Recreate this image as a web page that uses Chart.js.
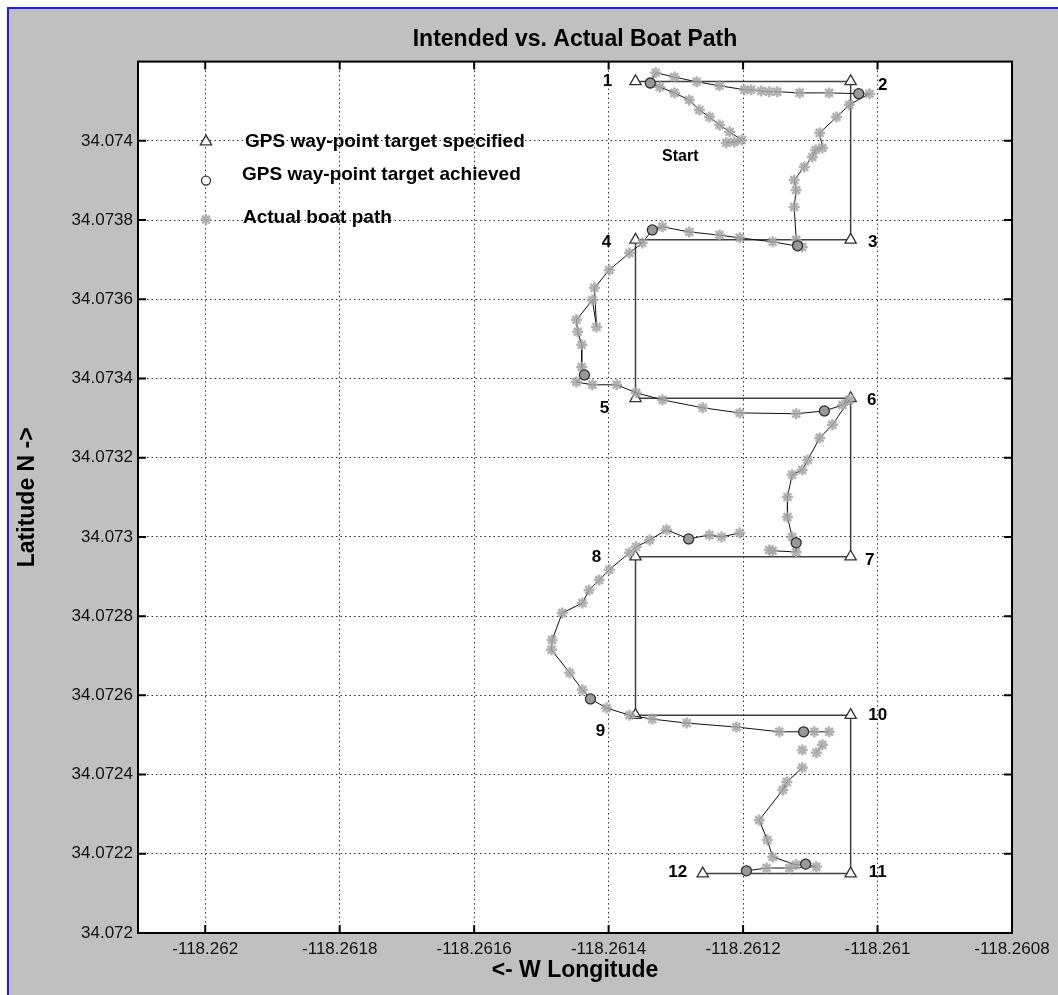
<!DOCTYPE html>
<html lang="en">
<head>
<meta charset="UTF-8">
<title>Intended vs. Actual Boat Path</title>
<style>
    html, body { margin: 0; padding: 0; background: #fff; }
    #frame { position: absolute; left: 7px; top: 7px; width: 1051px; height: 988px; box-sizing: border-box;
             background: #c0c0c0; border-left: 2px solid #1a1aff; border-top: 2px solid #1a1aff; }
    #myChart { position: absolute; left: 0; top: 0; }
</style>
</head>
<body>
<div id="frame"></div>
<canvas id="myChart" width="1058" height="995"></canvas>

<script src="https://cdn.jsdelivr.net/npm/chart.js"></script>
<script>
    // way-point targets (triangles)
    const wpNames = ['1','2','3','4','5','6','7','8','9','10','11','12']
    const wpLon = [-118.26136, -118.26104, -118.26104, -118.26136, -118.26136, -118.26104,
                   -118.26104, -118.26136, -118.26136, -118.26104, -118.26104, -118.26126]
    const wpLat = [34.07415, 34.07415, 34.07375, 34.07375, 34.07335, 34.07335,
                   34.07295, 34.07295, 34.07255, 34.07255, 34.07215, 34.07215]

    // way-point targets achieved (circles)
    const hitLon = [-118.261338, -118.261028, -118.261119, -118.261335, -118.261436, -118.261079,
                    -118.261121, -118.261281, -118.261427, -118.261110, -118.261107, -118.261195]
    const hitLat = [34.074146, 34.074119, 34.073735, 34.073775, 34.073409, 34.073318,
                    34.072985, 34.072995, 34.072591, 34.072508, 34.072174, 34.072157]

    // actual boat path (null = break in the log)
    const pathLon = [
        -118.261225, -118.261213, -118.261202, -118.261220, -118.261235, -118.261250, -118.261265, -118.261280, -118.261302, -118.261324,
        -118.261338, -118.261330, -118.261302, -118.261269, -118.261235, -118.261198, -118.261188, -118.261173, -118.261161, -118.261149,
        -118.261116, -118.261072, -118.261028, -118.261012, -118.261042, -118.261061, -118.261086, -118.261082, -118.261092, -118.261097,
        -118.261109, -118.261124, -118.261121, -118.261124, -118.261121, -118.261119, -118.261112, -118.261156, -118.261205, -118.261235,
        -118.261280, -118.261320, -118.261335, -118.261350, -118.261369, -118.261399, -118.261421, -118.261418, -118.261424, -118.261448,
        -118.261446, -118.261440, -118.261440, -118.261436, -118.261448, -118.261424, -118.261388, -118.261359, -118.261320, -118.261260,
        -118.261205, -118.261121, -118.261079, -118.261052, -118.261042, -118.261067, -118.261086, -118.261104, -118.261112, -118.261127,
        -118.261134, -118.261134, -118.261127, -118.261121, -118.261121, -118.261156, -118.261161, null,
        -118.261205, -118.261232, -118.261250, -118.261281, -118.261314, -118.261339, -118.261359, -118.261369, -118.261399, -118.261414,
        -118.261429, -118.261439, -118.261469, -118.261484, -118.261485, -118.261458, -118.261439, -118.261427, -118.261403, -118.261369,
        -118.261335, -118.261284, -118.261210, -118.261146, -118.261110, -118.261094, -118.261072, null,
        -118.261112, null, -118.261091, -118.261082, null,
        -118.261112, -118.261135, -118.261141, -118.261176, -118.261164, -118.261156, -118.261121, -118.261107, -118.261091, -118.261131,
        -118.261165, -118.261195
    ]
    const pathLat = [
        34.073995, 34.073997, 34.074002, 34.074023, 34.074040, 34.074060, 34.074078, 34.074103, 34.074121, 34.074136,
        34.074146, 34.074172, 34.074161, 34.074149, 34.074139, 34.074129, 34.074129, 34.074126, 34.074124, 34.074124,
        34.074121, 34.074121, 34.074119, 34.074119, 34.074091, 34.074060, 34.074020, 34.073982, 34.073977, 34.073959,
        34.073934, 34.073901, 34.073876, 34.073833, 34.073750, 34.073735, 34.073732, 34.073745, 34.073755, 34.073762,
        34.073770, 34.073783, 34.073775, 34.073742, 34.073717, 34.073674, 34.073629, 34.073530, 34.073598, 34.073548,
        34.073518, 34.073485, 34.073429, 34.073409, 34.073391, 34.073384, 34.073384, 34.073364, 34.073346, 34.073326,
        34.073313, 34.073311, 34.073318, 34.073333, 34.073346, 34.073283, 34.073250, 34.073194, 34.073169, 34.073157,
        34.073101, 34.073050, 34.073000, 34.072985, 34.072962, 34.072965, 34.072967, null,
        34.073010, 34.073000, 34.073005, 34.072995, 34.073018, 34.072992, 34.072975, 34.072960, 34.072917, 34.072891,
        34.072866, 34.072833, 34.072808, 34.072740, 34.072715, 34.072657, 34.072614, 34.072591, 34.072568, 34.072550,
        34.072540, 34.072530, 34.072520, 34.072508, 34.072508, 34.072508, 34.072508, null,
        34.072462, null, 34.072455, 34.072475, null,
        34.072417, 34.072381, 34.072361, 34.072285, 34.072235, 34.072192, 34.072172, 34.072174, 34.072167, 34.072164,
        34.072164, 34.072157
    ]

    const lonTicks = [-118.262, -118.2618, -118.2616, -118.2614, -118.2612, -118.261, -118.2608]
    const latTicks = [34.072, 34.0722, 34.0724, 34.0726, 34.0728, 34.073, 34.0732, 34.0734, 34.0736, 34.0738, 34.074]

    const FONT = "'Liberation Sans', Arial, Helvetica, sans-serif"
    const STAR = 'rgba(165,165,165,0.85)'
    const fmt = v => String(Number(v.toFixed(4)))
    const xy = (lons, lats) => lons.map((x, i) => ({ x: x, y: lats[i] }))

    // text and little tick marks, MATLAB style
    const boatDecor = {
        id: 'boatDecor',
        beforeDraw(chart) {
            const a = chart.chartArea, ctx = chart.ctx
            ctx.save()
            ctx.fillStyle = '#fff'
            ctx.fillRect(a.left, a.top, a.right - a.left, a.bottom - a.top)
            ctx.restore()
        },
        afterDraw(chart) {
            const a = chart.chartArea, ctx = chart.ctx
            const sx = chart.scales.x, sy = chart.scales.y
            ctx.save()

            // inner tick marks
            ctx.strokeStyle = '#000'
            ctx.lineWidth = 2
            ctx.beginPath()
            lonTicks.forEach(v => {
                const p = sx.getPixelForValue(v)
                ctx.moveTo(p, a.bottom); ctx.lineTo(p, a.bottom - 8)
                ctx.moveTo(p, a.top); ctx.lineTo(p, a.top + 8)
            })
            latTicks.forEach(v => {
                const p = sy.getPixelForValue(v)
                ctx.moveTo(a.left, p); ctx.lineTo(a.left + 8, p)
                ctx.moveTo(a.right, p); ctx.lineTo(a.right - 8, p)
            })
            ctx.stroke()

            // box
            ctx.lineWidth = 2
            ctx.strokeRect(a.left, a.top, a.right - a.left, a.bottom - a.top)

            // way-point numbers
            const offs = [[-28,0],[32,4],[22,2],[-29,2],[-31,10],[21,2],[19,4],[-39,1],[-35,16],[27,0],[27,-1],[-25,-1]]
            ctx.fillStyle = '#000'
            ctx.font = 'bold 17px ' + FONT
            ctx.textAlign = 'center'
            ctx.textBaseline = 'middle'
            wpNames.forEach((n, i) => {
                ctx.fillText(n, sx.getPixelForValue(wpLon[i]) + offs[i][0], sy.getPixelForValue(wpLat[i]) + offs[i][1])
            })
            ctx.font = 'bold 16px ' + FONT
            ctx.fillText('Start', sx.getPixelForValue(pathLon[0]) - 46, sy.getPixelForValue(pathLat[0]) + 14)

            // legend written inside the axes
            const items = [
                { style: 'triangle', r: 6.5, fill: '#fff', stroke: '#333', w: 1.3, my: 80, tx: 107, ty: 80, text: 'GPS way-point target specified' },
                { style: 'circle', r: 4.5, fill: '#fff', stroke: '#333', w: 1.3, my: 119, tx: 104, ty: 113, text: 'GPS way-point target achieved' },
                { style: 'star', r: 5.5, fill: STAR, stroke: STAR, w: 2.5, my: 158, tx: 105, ty: 156, text: 'Actual boat path' }
            ]
            items.forEach(it => {
                ctx.fillStyle = it.fill
                ctx.strokeStyle = it.stroke
                ctx.lineWidth = it.w
                Chart.helpers.drawPoint(ctx, { pointStyle: it.style, radius: it.r, borderWidth: it.w, rotation: 0 }, a.left + 68, a.top + it.my)
                ctx.fillStyle = '#000'
                ctx.font = 'bold 19px ' + FONT
                ctx.textAlign = 'left'
                ctx.fillText(it.text, a.left + it.tx, a.top + it.ty)
            })
            ctx.restore()
        }
    }

    var ctx = document.getElementById('myChart')
    var myChart = new Chart(ctx, {
        type: 'scatter',
        data: {
            datasets: [{
                label: 'GPS way-point target specified',
                data: xy(wpLon, wpLat),
                showLine: true,
                borderColor: '#404040',
                borderWidth: 1.5,
                pointStyle: 'triangle',
                pointRadius: 6.5,
                pointBackgroundColor: '#fff',
                pointBorderColor: '#333',
                pointBorderWidth: 1.3,
                order: 3
            }, {
                label: 'Actual boat path',
                data: xy(pathLon, pathLat),
                showLine: true,
                spanGaps: false,
                borderColor: '#111',
                borderWidth: 1,
                pointStyle: 'star',
                pointRadius: 5.5,
                pointBorderColor: STAR,
                pointBackgroundColor: STAR,
                pointBorderWidth: 2.5,
                order: 2
            }, {
                label: 'GPS way-point target achieved',
                data: xy(hitLon, hitLat),
                pointStyle: 'circle',
                pointRadius: 5,
                pointBackgroundColor: '#999',
                pointBorderColor: '#333',
                pointBorderWidth: 1.3,
                order: 1
            }]
        },
        options: {
            responsive: false,
            animation: false,
            layout: { padding: { top: 0, right: 46, bottom: 0, left: 0 } },
            plugins: {
                legend: { display: false },
                tooltip: { enabled: false },
                title: {
                    display: true,
                    fullSize: false,
                    text: 'Intended vs. Actual Boat Path',
                    color: '#000',
                    font: { family: FONT, size: 23, weight: 'bold' },
                    padding: { top: 26, bottom: 8 }
                }
            },
            scales: {
                x: {
                    type: 'linear',
                    min: -118.2621,
                    max: -118.2608,
                    afterBuildTicks: s => { s.ticks = lonTicks.map(v => ({ value: v })) },
                    afterFit: s => { s.height = 62 },
                    grid: { color: '#333', lineWidth: 1, drawTicks: false },
                    border: { display: false, dash: [1.5, 3] },
                    ticks: { padding: 6, color: '#111', autoSkip: false, maxRotation: 0,
                             font: { family: FONT, size: 17 }, callback: v => fmt(v) },
                    title: { display: true, text: '<- W Longitude', color: '#000',
                             font: { family: FONT, size: 23, weight: 'bold' }, padding: { top: 0, bottom: 11 } }
                },
                y: {
                    type: 'linear',
                    min: 34.072,
                    max: 34.0742,
                    afterBuildTicks: s => { s.ticks = latTicks.map(v => ({ value: v })) },
                    afterFit: s => { s.width = 138 },
                    grid: { color: '#333', lineWidth: 1, drawTicks: false },
                    border: { display: false, dash: [1.5, 3] },
                    ticks: { padding: 5, color: '#111', autoSkip: false,
                             font: { family: FONT, size: 17 }, callback: v => fmt(v) },
                    title: { display: true, text: 'Latitude N ->', color: '#000',
                             font: { family: FONT, size: 23, weight: 'bold' }, padding: { top: 14, bottom: 0 } }
                }
            }
        },
        plugins: [boatDecor]
    })
</script>
</body>
</html>
